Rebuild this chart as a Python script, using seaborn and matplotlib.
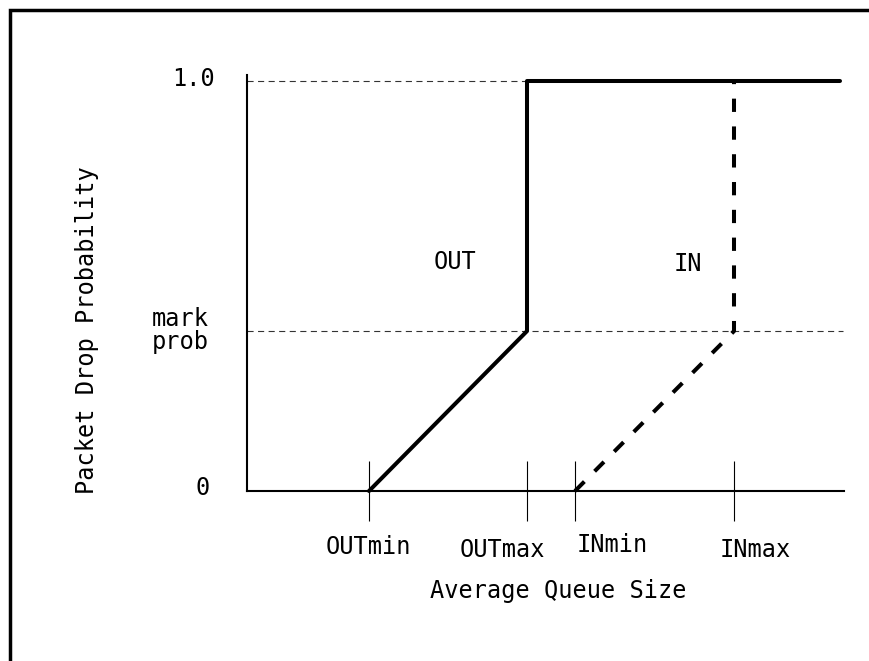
import matplotlib
matplotlib.use("Agg")
import matplotlib.pyplot as plt
import matplotlib.transforms as mtransforms
from matplotlib.patches import Rectangle
import seaborn as sns
import pandas as pd

# thresholds on the queue axis (arbitrary units)
tick_names = ["OUTmin", "OUTmax", "INmin", "INmax"]
tick_pos = [1.22, 2.80, 3.28, 4.87]
queue_end = 5.93        # where the OUT curve stops on the right
axis_end = 5.97

# probability levels
prob_names = ["0", "mark\nprob", "1.0"]
prob_levels = [0.0, 0.39, 1.0]

# drop curves (RIO style)
out_x = [tick_pos[0], tick_pos[1], tick_pos[1], queue_end]
out_y = [0.0, prob_levels[1], 1.0, 1.0]
in_x = [tick_pos[2], tick_pos[3], tick_pos[3]]
in_y = [0.0, prob_levels[1], 1.0]

df_out = pd.DataFrame({"queue": out_x, "prob": out_y})
df_in = pd.DataFrame({"queue": in_x, "prob": in_y})

sns.set_theme(style="white")
plt.rcParams["font.family"] = ["DejaVu Sans Mono", "DejaVu Sans"]
plt.rcParams["text.color"] = "black"

W, H = 869, 661
fig = plt.figure(figsize=(W / 100, H / 100), dpi=100)
ax = fig.add_axes([247 / W, (H - 491) / H, 600 / W, (491 - 75) / H])

# thin dashed guide lines
guide = dict(color="#333333", linewidth=0.8, linestyle=(0, (5.5, 4)), clip_on=False)
ax.plot([0, tick_pos[1]], [1.0, 1.0], **guide)
ax.plot([0, 5.96], [prob_levels[1], prob_levels[1]], **guide)

sns.lineplot(data=df_out, x="queue", y="prob", ax=ax, sort=False, estimator=None,
             color="black", linewidth=2.9, clip_on=False)
sns.lineplot(data=df_in, x="queue", y="prob", ax=ax, sort=False, estimator=None,
             color="black", linewidth=2.9, linestyle=(0, (3.3, 3.6)), clip_on=False)

ax.text(2.08, 0.559, "OUT", ha="center", va="center", fontsize=17)
ax.text(4.41, 0.554, "IN", ha="center", va="center", fontsize=17)

ax.set_xlim(0, 6.0)
ax.set_ylim(0, (491 - 75) / 410)

for s in ["top", "right"]:
    ax.spines[s].set_visible(False)
for s in ["left", "bottom"]:
    ax.spines[s].set_color("black")
    ax.spines[s].set_linewidth(1.5)
ax.spines["bottom"].set_bounds(0, axis_end)

ax.set_xticks(tick_pos, labels=tick_names)
ax.tick_params(axis="x", bottom=True, direction="inout", length=42.5, width=0.8,
               color="black", pad=9.7, labelsize=17, labelcolor="black")
ax.set_yticks(prob_levels, labels=prob_names)
ax.tick_params(axis="y", length=0, pad=26.5, labelsize=17, labelcolor="black")

# nudge tick labels (pixels)
x_shift = [(-1, -1), (-25, -4), (37, 1), (21, -4)]
for lab, (dx, dy) in zip(ax.get_xticklabels(), x_shift):
    lab.set_transform(lab.get_transform() +
                      mtransforms.ScaledTranslation(dx / 100, dy / 100, fig.dpi_scale_trans))
y_shift = [(0, 5.5), (-1, 3), (5, 4)]
for lab, (dx, dy) in zip(ax.get_yticklabels(), y_shift):
    lab.set_linespacing(0.95)
    lab.set_transform(lab.get_transform() +
                      mtransforms.ScaledTranslation(dx / 100, dy / 100, fig.dpi_scale_trans))

ax.set_xlabel("Average Queue Size", fontsize=17, va="center", color="black")
ax.xaxis.set_label_coords(0.518, -0.2415)
ax.set_ylabel("Packet Drop Probability", fontsize=17, va="center", color="black")
ax.yaxis.set_label_coords(-0.2667, 0.3865)

# frame around the figure (only left and top edges fall inside the picture)
fig.add_artist(Rectangle((10 / W, -0.5), 2.0, (1 - 9.5 / H) + 0.5,
                         transform=fig.transFigure, fill=False,
                         edgecolor="black", linewidth=2.5))

fig.savefig("out.png", dpi=100)
